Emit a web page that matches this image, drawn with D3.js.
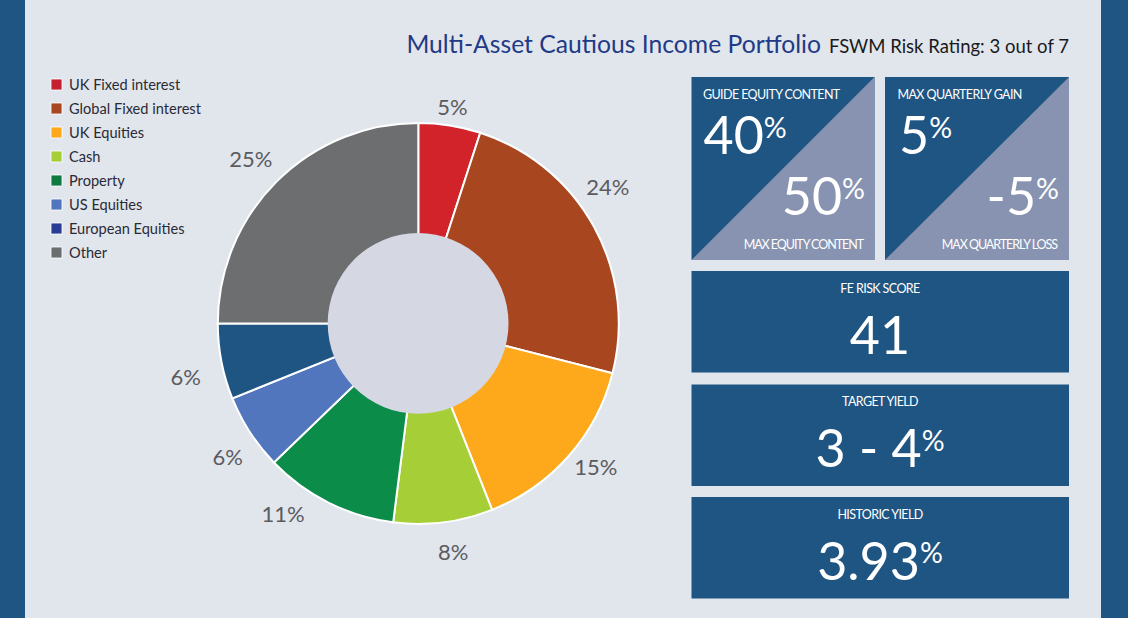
<!DOCTYPE html>
<html><head><meta charset="utf-8">
<script src="https://cdn.jsdelivr.net/npm/d3@7/dist/d3.min.js"></script>
<style>html,body{margin:0;padding:0;background:#e1e6ed}svg{display:block}text{font-family:Lato,sans-serif}</style>
</head><body><svg id="c" width="1128" height="618"></svg>
<script>
const categories=["UK Fixed interest","Global Fixed interest","UK Equities","Cash","Property","US Equities","European Equities","Other"];
const values=[5,24,15,8,10.8,6.1,6.1,25];
const legendColors=["#c4202f","#a84620","#fea91b","#a6ce37","#0f7a40","#5276bd","#2a3d96","#6d6e70"];
const sliceColors=["#d2232a","#a84620","#fea91b","#a6ce37","#0b8c49","#5276bd","#1f5582","#6d6e70"];
const title="Multi-Asset Cautious Income Portfolio";
const subtitle="FSWM Risk Rating: 3 out of 7";
const splitTiles=[
 {top:"GUIDE EQUITY CONTENT",topValue:"40",bottom:"MAX EQUITY CONTENT",bottomValue:"50"},
 {top:"MAX QUARTERLY GAIN",topValue:"5",bottom:"MAX QUARTERLY LOSS",bottomValue:"-5"}];
const wideTiles=[
 {label:"FE RISK SCORE",value:"41",pct:false},
 {label:"TARGET YIELD",value:"3 - 4",pct:true},
 {label:"HISTORIC YIELD",value:"3.93",pct:true}];

const NAVY="#1f5582",TRI="#8793b0";
const svg=d3.select("#c");
svg.append("rect").attr("width",1128).attr("height",618).attr("fill","#e1e6ed");
svg.append("rect").attr("width",25).attr("height",618).attr("fill",NAVY);
svg.append("rect").attr("x",1101).attr("width",27).attr("height",618).attr("fill",NAVY);

// title
const t=svg.append("text").attr("x",1069).attr("y",53).attr("text-anchor","end");
t.append("tspan").attr("font-size",24.7).attr("fill","#223a86").text(title);
t.append("tspan").attr("font-size",18.5).attr("fill","#1a1a1a").attr("dx",8).text(subtitle);

// legend
const legend=svg.append("g").selectAll("g").data(categories).join("g")
 .attr("transform",(d,i)=>`translate(51,${79+i*24})`);
legend.append("rect").attr("width",11).attr("height",11).attr("fill",(d,i)=>legendColors[i]).attr("stroke","#fff").attr("stroke-width",.8);
legend.append("text").attr("x",18).attr("y",11).attr("font-size",14.6).attr("fill","#2a2a35").text(d=>d);

// donut
const cx=418.3,cy=323.4;
const pie=d3.pie().sort(null).value(d=>d)(values);
const g=svg.append("g").attr("transform",`translate(${cx},${cy})`);
const arc=d3.arc().innerRadius(0).outerRadius(200.5);
g.selectAll("path").data(pie).join("path").attr("d",arc)
 .attr("fill",(d,i)=>sliceColors[i]).attr("stroke","#fff").attr("stroke-width",2);
g.append("circle").attr("cx",-.2).attr("r",90.4).attr("fill","#d5d8e3");
// label placement: radius and small angular correction per slice (degrees)
const labelR=[218,233.3,228.6,232,234,233,238.7,234.4], labelDA=[0,-6.9,-2.35,-1.45,8.65,-2.2,-2.1,-.6];
g.selectAll("text").data(pie).join("text")
 .attr("text-anchor","middle").attr("dy","0.33em").attr("font-size",22).attr("fill","#5b5b5f")
 .attr("x",(d,i)=>labelR[i]*Math.sin((d.startAngle+d.endAngle)/2+labelDA[i]*Math.PI/180))
 .attr("y",(d,i)=>-labelR[i]*Math.cos((d.startAngle+d.endAngle)/2+labelDA[i]*Math.PI/180))
 .text(d=>Math.round(d.value)+"%");

function big(sel,x,y,anchor,val,size,pct){
 const n=sel.append("text").attr("x",x).attr("y",y).attr("text-anchor",anchor).attr("fill","#fff").attr("font-size",size).text(val);
 if(pct) n.append("tspan").attr("font-size",size*.55).attr("dy",-size*.31).text("%");
}
// split tiles
splitTiles.forEach((s,i)=>{
 const x=[691.5,885][i],w=[183,184][i],y=77,h=183;
 const G=svg.append("g");
 G.append("rect").attr("x",x).attr("y",y).attr("width",w).attr("height",h).attr("fill",NAVY);
 G.append("path").attr("d",d3.line()([[x+w,y],[x+w,y+h],[x,y+h]])+"Z").attr("fill",TRI);
 G.append("text").attr("x",i?897.5:703).attr("y",98.5).attr("fill","#fff").attr("font-size",12.5).attr("letter-spacing",-.6).text(s.top);
 G.append("text").attr("x",i?1057:863).attr("y",249).attr("text-anchor","end").attr("fill","#fff").attr("font-size",12.5).attr("letter-spacing",-1.05).text(s.bottom);
 big(G,i?899:703.5,154,"start",s.topValue,52,true);
 big(G,i?1059:865,215,"end",s.bottomValue,52,true);
});
// wide tiles
wideTiles.forEach((s,i)=>{
 const y=[271,384.5,497][i],h=101.5;
 const G=svg.append("g");
 G.append("rect").attr("x",691.5).attr("y",y).attr("width",377.5).attr("height",h).attr("fill",NAVY);
 G.append("text").attr("x",880).attr("y",y+21.5).attr("text-anchor","middle").attr("fill","#fff").attr("font-size",12.5).attr("letter-spacing",-.6).text(s.label);
 big(G,880,y+82.5,"middle",s.value,52,s.pct);
});
</script></body></html>
